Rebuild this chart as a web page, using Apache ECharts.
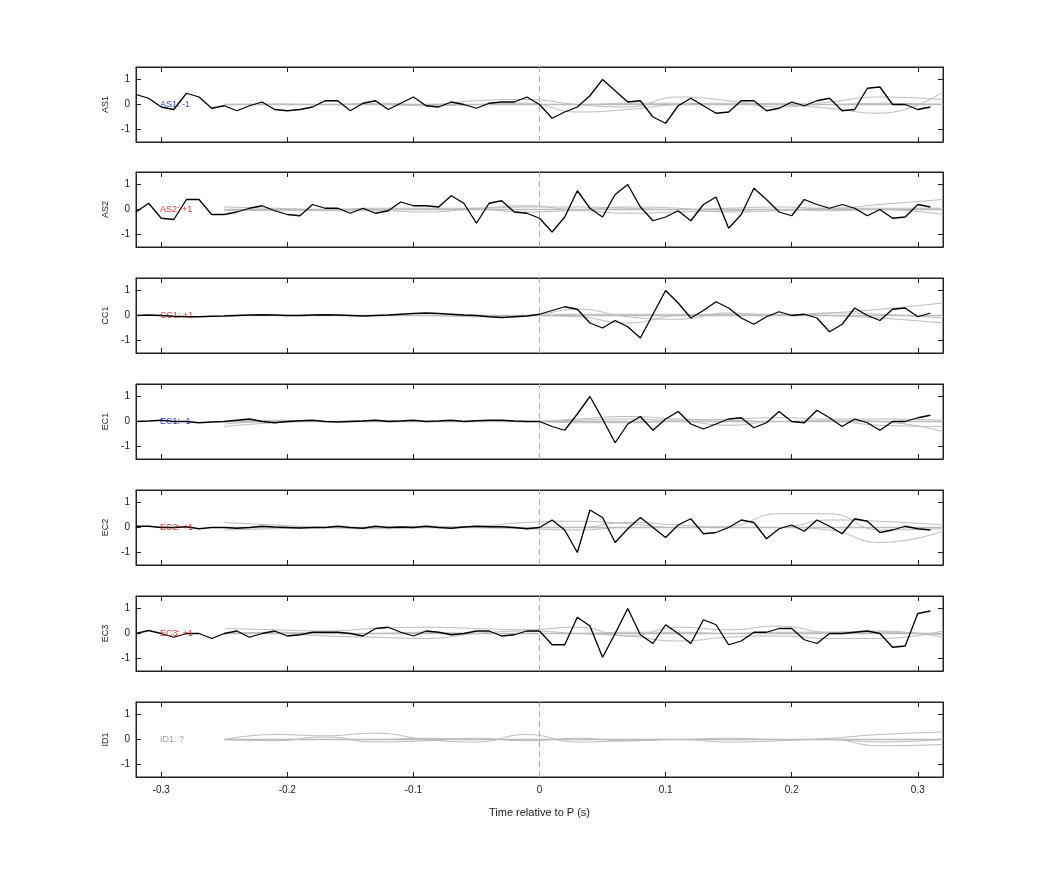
<!DOCTYPE html>
<html><head><meta charset="utf-8">
<script src="https://cdn.jsdelivr.net/npm/echarts@6/dist/echarts.min.js"></script>
<style>html,body{margin:0;padding:0;background:#fff}#c{width:1042px;height:875px}</style>
</head><body><div id="c"></div>
<script>
const stations = ['AS1','AS2','CC1','EC1','EC2','EC3','ID1'];
const polarity = ['-1','+1','+1','-1','+1','+1','?'];
const polColor = ['#0000cc','#dd0000','#dd0000','#0000cc','#dd0000','#dd0000','#888888'];
const xTicks = [-0.3,-0.2,-0.1,0,0.1,0.2,0.3];
const yTicks = [-1,0,1];
const tStart = -0.32, tStep = 0.01;
const AS1 = [0.4,0.25,-0.1,-0.2,0.45,0.3,-0.15,-0.05,-0.25,-0.05,0.1,-0.2,-0.25,-0.2,-0.1,0.15,0.15,-0.25,0.05,0.15,-0.2,0.05,0.3,-0.05,-0.1,0.1,0.0,-0.15,0.05,0.1,0.1,0.3,
  0.0,-0.55,-0.3,-0.1,0.35,1.0,0.55,0.1,0.15,-0.5,-0.75,-0.05,0.25,-0.05,-0.35,-0.3,0.15,0.15,-0.25,-0.15,0.1,-0.05,0.15,0.25,-0.25,-0.2,0.65,0.7,0.0,0.0,-0.2,-0.1];
const AS2 = [-0.1,0.25,-0.35,-0.4,0.4,0.4,-0.2,-0.2,-0.1,0.05,0.15,-0.05,-0.2,-0.25,0.2,0.05,0.05,-0.15,0.05,-0.15,-0.05,0.3,0.15,0.15,0.1,0.55,0.25,-0.55,0.25,0.35,-0.1,-0.15,
  -0.35,-0.9,-0.3,0.75,0.05,-0.3,0.6,1.0,0.1,-0.45,-0.3,-0.05,-0.45,0.2,0.5,-0.75,-0.2,0.85,0.4,-0.1,-0.25,0.4,0.2,0.05,0.2,0.05,-0.25,0.0,-0.35,-0.3,0.2,0.1];
const CC1 = [0.0,0.02,0.0,-0.03,-0.05,-0.05,-0.03,-0.02,0.0,0.02,0.03,0.02,0.0,0.0,0.02,0.03,0.02,0.0,-0.02,0.0,0.02,0.05,0.08,0.1,0.08,0.05,0.02,0.0,-0.05,-0.08,-0.05,-0.02,
  0.05,0.2,0.35,0.25,-0.3,-0.5,-0.2,-0.45,-0.9,0.05,1.0,0.5,-0.1,0.2,0.55,0.3,-0.1,-0.35,-0.05,0.15,0.0,0.05,-0.1,-0.65,-0.35,0.3,0.0,-0.2,0.25,0.3,-0.05,0.1];
const EC1 = [0.0,0.02,0.05,0.0,0.0,-0.05,-0.02,0.0,0.05,0.1,0.0,-0.05,0.0,0.03,0.05,0.0,-0.02,0.0,0.02,0.05,0.0,0.02,0.05,0.0,0.02,0.05,0.0,0.03,0.05,0.05,0.02,0.0,
  0.0,-0.2,-0.35,0.3,1.0,0.1,-0.85,-0.1,0.2,-0.35,0.1,0.4,-0.1,-0.3,-0.1,0.1,0.15,-0.25,-0.05,0.4,0.0,-0.05,0.45,0.15,-0.2,0.1,-0.05,-0.35,0.0,0.0,0.15,0.25];
const EC2 = [0.05,0.05,0.0,0.0,0.03,-0.05,0.0,0.0,-0.03,0.0,0.05,0.02,0.0,-0.02,0.0,0.0,0.05,0.0,-0.03,0.05,0.0,0.02,0.0,0.05,0.0,-0.03,0.02,0.05,0.03,0.03,0.0,-0.05,
  0.0,0.3,-0.1,-1.0,0.7,0.4,-0.6,-0.05,0.4,0.0,-0.4,0.1,0.35,-0.25,-0.2,0.0,0.3,0.2,-0.45,-0.05,0.1,-0.15,0.3,0.05,-0.25,0.35,0.25,-0.2,-0.1,0.05,-0.05,-0.1];
const EC3 = [0.0,0.12,0.0,-0.15,0.0,0.0,-0.2,0.0,0.1,-0.15,0.0,0.1,-0.1,-0.05,0.05,0.05,0.05,0.0,-0.1,0.2,0.25,0.05,-0.1,0.1,0.05,-0.05,0.0,0.1,0.1,-0.1,-0.05,0.1,
  0.1,-0.45,-0.45,0.65,0.3,-0.95,0.0,1.0,-0.05,-0.4,0.35,0.0,-0.4,0.55,0.35,-0.45,-0.3,0.05,0.05,0.2,0.2,-0.25,-0.4,0.0,0.0,0.05,0.1,0.0,-0.55,-0.5,0.8,0.9];
const ID1 = null;
const black = [AS1,AS2,CC1,EC1,EC2,EC3,ID1];
const grayT = [-0.25,-0.21,-0.17,-0.13,-0.09,-0.05,-0.01,0.03,0.07,0.11,0.15,0.19,0.23,0.27,0.32];
const gray = [
 [[0,0,0,0.05,0,0.15,0.2,0,-0.1,0.3,0.15,-0.1,0.1,0.3,0.2],[0,0,0,0,-0.05,0,0.05,-0.3,-0.2,0,0.05,0,-0.15,-0.35,0.5],[0,0.02,0,0,0,0,0,0,0.05,0.05,0,0.05,0,0.05,0]],
 [[0.1,0.05,0,0.05,0.05,0.05,0.1,0.1,0.05,0,0.05,0.1,0.05,0.2,0.4],[-0.05,0,-0.05,-0.05,-0.1,0,-0.1,-0.05,-0.15,-0.1,-0.05,0,-0.05,0,-0.2],[0,-0.05,0,0,0,0.05,0.15,0,0.1,0.05,-0.1,-0.05,0.05,0.05,0.05]],
 [[0,0,0,0,0,0,0,0.25,-0.05,-0.15,0.1,0,0.1,0.25,0.5],[0,0,0,0,0,-0.05,0,-0.05,-0.3,0,0.05,0.05,0,-0.1,-0.3],[0,0,0,0,0,0,0,0.05,0.05,0.05,0,0,0.1,0.05,-0.1]],
 [[-0.2,-0.05,0,0,0,0,0,0.1,0.2,0.1,0.05,0,0.05,0,-0.4],[0,0.05,0,0,0,0,0,0.05,0.1,0.05,0.1,0.15,0.1,0.1,0.05],[-0.1,0,0,0.05,0,0,0,-0.05,-0.05,0,-0.15,0,0,-0.15,-0.2]],
 [[0.2,0.1,0,-0.05,0,0.05,0.2,0.25,0.15,0,0.05,0.55,0.55,-0.1,-0.05],[-0.1,-0.05,0,0,0.05,0,-0.05,-0.1,0,0,0,0,-0.1,-0.6,-0.15],[0,0,0,0,0,0,0,0,0.2,0.1,0,0,0.3,0.25,0.1]],
 [[0.2,0.15,0.1,0.2,0.25,0.2,0.15,0.25,-0.1,0.25,0.15,0.3,0.05,0.1,-0.15],[0,0,-0.1,-0.15,-0.2,0,0.1,0,-0.1,-0.3,-0.15,-0.1,-0.2,-0.2,0.1],[0,0.05,0,0,0.05,0,0,0,0.05,0.05,0,0.05,0.05,0.05,-0.05]],
 [[0,0.2,0.15,0.25,0,-0.1,0.2,-0.1,-0.05,0,-0.1,-0.05,0.05,0.2,0.3],[0,-0.05,0.1,-0.1,-0.05,0.05,-0.05,0.05,-0.05,0,0,0,0,-0.25,-0.2],[0,0,0,0,0.05,0,0,0,0,0,0.05,0,0,-0.1,0]]
];

const tops = [67,172,278,384,490,596,702];
const H = 75;
const grids=[], xAxes=[], yAxes=[], series=[];
const font = 'Liberation Sans, Arial, sans-serif';
const line = {show:true,onZero:false,lineStyle:{color:'#222'}};
stations.forEach((st,i)=>{
  grids.push({left:136,width:807,top:tops[i],height:H,show:true,borderColor:'#222',borderWidth:1,backgroundColor:'#fff'});
  const last = i===stations.length-1;
  const xa = {gridIndex:i,type:'value',min:-0.32,max:0.32,splitLine:{show:false},axisLine:line,
    axisTick:{show:true,inside:true,length:5,customValues:xTicks,lineStyle:{color:'#222'}},
    axisLabel:{show:last,customValues:xTicks,color:'#222',fontSize:10,fontFamily:font,margin:8}};
  if(last){ Object.assign(xa,{name:'Time relative to P (s)',nameLocation:'middle',nameGap:30,nameTextStyle:{color:'#222',fontSize:11,fontFamily:font}}); }
  xAxes.push(xa);
  xAxes.push({gridIndex:i,type:'value',position:'top',min:-0.32,max:0.32,splitLine:{show:false},axisLine:line,
    axisTick:{show:true,inside:true,length:5,customValues:xTicks,lineStyle:{color:'#222'}},axisLabel:{show:false}});
  yAxes.push({gridIndex:i,type:'value',min:-1.5,max:1.5,splitLine:{show:false},
    name:st,nameLocation:'middle',nameGap:18,nameTextStyle:{color:'#222',fontSize:9,fontFamily:font},axisLine:line,
    axisTick:{show:true,inside:true,length:5,customValues:yTicks,lineStyle:{color:'#222'}},
    axisLabel:{customValues:yTicks,color:'#222',fontSize:10,fontFamily:font,margin:6}});
  yAxes.push({gridIndex:i,type:'value',position:'right',min:-1.5,max:1.5,splitLine:{show:false},axisLine:line,
    axisTick:{show:true,inside:true,length:5,customValues:yTicks,lineStyle:{color:'#222'}},axisLabel:{show:false}});
  const xi=2*i, yi=2*i;
  gray[i].forEach(g=>{
    series.push({type:'line',xAxisIndex:xi,yAxisIndex:yi,data:grayT.map((t,k)=>[t,g[k]]),smooth:0.5,symbol:'none',
      lineStyle:{color:'#bbb',width:1},silent:true,z:2});
  });
  series.push({type:'line',xAxisIndex:xi,yAxisIndex:yi,data:[[-0.25,0],[0.32,0]],symbol:'none',lineStyle:{color:'#bbb',width:1.5},silent:true,z:2,
    markLine:{symbol:'none',silent:true,label:{show:false},lineStyle:{color:i<6?'#e39a9a':'#aaa',type:[6,4],width:1},data:[{xAxis:0}]}});
  if(black[i]){
    series.push({type:'line',xAxisIndex:xi,yAxisIndex:yi,data:black[i].map((v,k)=>[tStart+k*tStep,v]),symbol:'none',
      lineStyle:{color:'#000',width:1.3},z:4});
  }
  series.push({type:'scatter',xAxisIndex:xi,yAxisIndex:yi,data:[[-0.301,0]],symbolSize:0,z:5,
    label:{show:true,position:'right',distance:0,formatter:st+': '+polarity[i],color:polColor[i],fontSize:9,fontFamily:font}});
});
const chart = echarts.init(document.getElementById('c'),null,{renderer:'canvas'});
chart.setOption({animation:false,backgroundColor:'#fff',grid:grids,xAxis:xAxes,yAxis:yAxes,series:series});
</script></body></html>
